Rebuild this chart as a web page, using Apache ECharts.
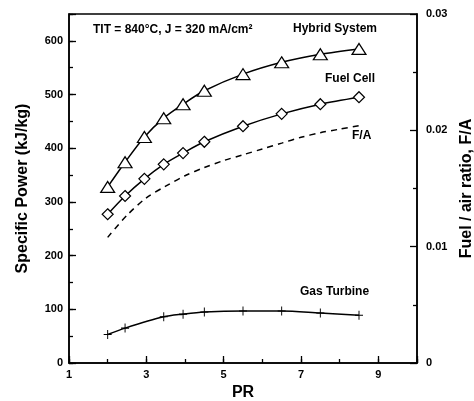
<!DOCTYPE html>
<html><head><meta charset="utf-8">
<script src="https://cdn.jsdelivr.net/npm/echarts@6/dist/echarts.min.js"></script>
<style>html,body{margin:0;padding:0;background:#fff}#c{width:474px;height:401px}</style>
</head><body><div id="c"></div>
<script>
const hybridPR = [2, 2.45, 2.95, 3.45, 3.95, 4.5, 5.5, 6.5, 7.5, 8.5];
const hybridPower = [328, 374, 421, 456, 482, 507, 538, 560, 575, 585];
const fuelCellPR = [2, 2.45, 2.95, 3.45, 3.95, 4.5, 5.5, 6.5, 7.5, 8.5];
const fuelCellPower = [277, 311, 343, 370, 391, 412, 441, 464, 482, 495];
const gasTurbinePR = [2, 2.45, 3.45, 3.95, 4.5, 5.5, 6.5, 7.5, 8.5];
const gasTurbinePower = [53, 65, 86, 91, 95, 97, 97, 93, 89];
const faPR = [2, 2.5, 3, 3.5, 4, 4.5, 5, 5.5, 6, 6.5, 7, 7.5, 8, 8.5];
const faRatio = [0.0108, 0.0127, 0.0142, 0.0152, 0.0161, 0.0168, 0.0174, 0.0179, 0.0184, 0.0189, 0.0194, 0.0198, 0.0201, 0.0204];
const xTickLabels = ['1', '3', '5', '7', '9'];
const yLeftTickLabels = ['0', '100', '200', '300', '400', '500', '600'];
const yRightTickLabels = ['0', '0.01', '0.02', '0.03'];

const pair = (xs, ys) => xs.map((x, i) => [x, ys[i]]);
const FONT = 'Liberation Sans, Arial, sans-serif';
const lbl = {color: '#000', fontWeight: 'bold', fontSize: 11, fontFamily: FONT};
const ttl = {color: '#000', fontWeight: 'bold', fontSize: 16, fontFamily: FONT};
const axLine = {show: true, lineStyle: {color: '#000', width: 1.5}};
const tickStyle = {color: '#000', width: 1.3};

const chart = echarts.init(document.getElementById('c'), null, {renderer: 'canvas'});
chart.setOption({
  animation: false,
  backgroundColor: '#fff',
  grid: {left: 69, right: 57, top: 14, bottom: 38, containLabel: false, outerBoundsMode: 'none',
         show: true, borderColor: '#000', borderWidth: 1.5, backgroundColor: 'transparent'},
  xAxis: [
    {type: 'value', min: 1, max: 10, interval: 1, position: 'bottom',
     axisLine: axLine, axisTick: {inside: true, length: 4, lineStyle: tickStyle},
     axisLabel: Object.assign({margin: 6, formatter: v => xTickLabels.includes(String(v)) ? String(v) : ''}, lbl),
     splitLine: {show: false},
     name: 'PR', nameLocation: 'middle', nameGap: 22, nameTextStyle: ttl},
    {type: 'value', min: 1, max: 10, interval: 2, position: 'bottom', offset: 0,
     axisLine: {show: false}, axisTick: {inside: true, length: 7, lineStyle: tickStyle},
     axisLabel: {show: false}, splitLine: {show: false}}
  ],
  yAxis: [
    {type: 'value', min: 0, max: 650, interval: 50, position: 'left',
     axisLine: axLine, axisTick: {inside: true, length: 4, lineStyle: tickStyle},
     axisLabel: Object.assign({margin: 6, formatter: v => yLeftTickLabels.includes(String(v)) ? String(v) : ''}, lbl),
     splitLine: {show: false},
     name: 'Specific Power (kJ/kg)', nameLocation: 'middle', nameGap: 38, nameRotate: 90, nameTextStyle: ttl},
    {type: 'value', min: 0, max: 650, interval: 100, position: 'left', offset: 0,
     axisLine: {show: false}, axisTick: {inside: true, length: 7, lineStyle: tickStyle},
     axisLabel: {show: false}, splitLine: {show: false}},
    {type: 'value', min: 0, max: 0.03, interval: 0.01, position: 'right',
     axisLine: axLine, axisTick: {inside: true, length: 7, lineStyle: tickStyle},
     minorTick: {show: true, splitNumber: 2, length: 4, lineStyle: tickStyle},
     axisLabel: Object.assign({margin: 9, formatter: v => { const s = v === 0 ? '0' : v.toFixed(2); return yRightTickLabels.includes(s) ? s : ''; }}, lbl),
     splitLine: {show: false}, minorSplitLine: {show: false},
     name: 'Fuel / air ratio, F/A', nameLocation: 'middle', nameGap: 35, nameRotate: 90, nameTextStyle: ttl}
  ],
  series: [
    {name: 'Hybrid System', type: 'line', xAxisIndex: 0, yAxisIndex: 0, smooth: 0.3,
     data: pair(hybridPR, hybridPower), symbol: 'triangle', symbolSize: [14, 11],
     lineStyle: {color: '#000', width: 1.5}, itemStyle: {color: '#fff', borderColor: '#000', borderWidth: 1.2}},
    {name: 'Fuel Cell', type: 'line', xAxisIndex: 0, yAxisIndex: 0, smooth: 0.3,
     data: pair(fuelCellPR, fuelCellPower), symbol: 'diamond', symbolSize: [11, 11],
     lineStyle: {color: '#000', width: 1.5}, itemStyle: {color: '#fff', borderColor: '#000', borderWidth: 1.2}},
    {name: 'Gas Turbine', type: 'line', xAxisIndex: 0, yAxisIndex: 0, smooth: 0.3,
     data: pair(gasTurbinePR, gasTurbinePower), symbol: 'path://M5,0L5,10M0,5L10,5', symbolSize: [8, 9],
     lineStyle: {color: '#000', width: 1.5}, itemStyle: {color: 'none', borderColor: '#000', borderWidth: 1}},
    {name: 'F/A', type: 'line', xAxisIndex: 0, yAxisIndex: 2, smooth: 0.3, showSymbol: false, symbol: 'none',
     data: pair(faPR, faRatio),
     lineStyle: {color: '#000', width: 1.5, type: [6, 5]}}
  ],
  graphic: [
    {type: 'text', left: 93, top: 24, style: {text: 'TIT = 840°C, J = 320 mA/cm²', fill: '#000', font: 'bold 12px ' + FONT}},
    {type: 'text', left: 293, top: 23, style: {text: 'Hybrid System', fill: '#000', font: 'bold 12px ' + FONT}},
    {type: 'text', left: 325, top: 73, style: {text: 'Fuel Cell', fill: '#000', font: 'bold 12px ' + FONT}},
    {type: 'text', left: 352, top: 130, style: {text: 'F/A', fill: '#000', font: 'bold 12px ' + FONT}},
    {type: 'text', left: 300, top: 286, style: {text: 'Gas Turbine', fill: '#000', font: 'bold 12px ' + FONT}}
  ]
});
</script></body></html>
